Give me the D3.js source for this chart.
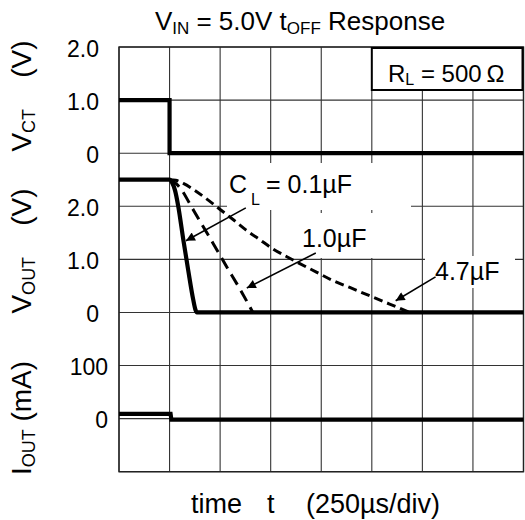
<!DOCTYPE html>
<html><head><meta charset="utf-8">
<script src="https://cdn.jsdelivr.net/npm/d3@7"></script>
<style>
html,body{margin:0;padding:0;background:#fff;}
svg{display:block;font-family:"Liberation Sans",Arial,sans-serif;}
text{fill:#000;}
</style></head><body>
<svg id="c" width="525" height="520"></svg>
<script>
// ---- data ----
const timeTicks = d3.range(0, 2001, 250);           // µs, 250 µs/div
const vctTicks = [0, 1, 2];   const vctLabels = ["0", "1.0", "2.0"];
const voutTicks = [0, 1, 2];  const voutLabels = ["0", "1.0", "2.0"];
const ioutTicks = [-100, 0, 100]; const ioutLabels = ["", "0", "100"];
const vct = [[0,1],[250,1],[250,0],[2000,0]];
const vout01 = [[0,2.5],[250,2.5],[262,2.45],[277,2.3],[293,2.0],[318,1.37],[342,0.8],[367,0.24],[378,0.05],[385,0],[2000,0]];
const vout10 = [[250,2.5],[281,2.43],[311,2.3],[351,2.04],[400,1.72],[464,1.31],[528,0.89],[598,0.44],[662,0]];
const vout47 = [[250,2.5],[280,2.49],[318,2.43],[367,2.32],[433,2.14],[500,1.94],[564,1.75],[629,1.55],[696,1.37],[760,1.2],[830,1.05],[894,0.92],[976,0.76],[1058,0.6],[1141,0.47],[1223,0.34],[1305,0.21],[1388,0.08],[1437,0]];
const iout = [[0,9],[255,9],[259,-2],[2000,-2]];

// ---- layout ----
const L = 119, R = 523.5, T = 47, B = 471.7, h = (B - T) / 8;
const svg = d3.select("#c");
const x = d3.scaleLinear().domain([0, 2000]).range([L, R]);
const yVct = d3.scaleLinear().domain([0, 2]).range([T + 2*h, T]);
const yVout = d3.scaleLinear().domain([0, 2]).range([T + 5*h, T + 3*h]);
const yIout = d3.scaleLinear().domain([-100, 100]).range([B, T + 6*h]);

const defs = svg.append("defs");
defs.append("marker").attr("id","ah").attr("viewBox","0 0 10 10")
  .attr("refX",10).attr("refY",5).attr("markerWidth",13).attr("markerHeight",9)
  .attr("markerUnits","userSpaceOnUse").attr("orient","auto")
  .append("path").attr("d","M0,0L10,5L0,10z").attr("fill","#000");

// grid
const g = svg.append("g").attr("stroke","#333").attr("stroke-width",1.1);
g.selectAll("line.v").data(timeTicks).join("line")
  .attr("x1", d => x(d)).attr("x2", d => x(d)).attr("y1", T).attr("y2", B);
const hLines = vctTicks.map(yVct).concat(voutTicks.map(yVout), ioutTicks.map(yIout));
g.selectAll("line.h").data(hLines).join("line")
  .attr("x1", L).attr("x2", R).attr("y1", d => d).attr("y2", d => d);
svg.append("rect").attr("x",L).attr("y",T).attr("width",R-L).attr("height",B-T)
  .attr("fill","none").attr("stroke","#222").attr("stroke-width",1.4);

// white label backgrounds
const boxes = [[227,163,184,47],[297,213,78,45],[425,256,90,32]];
svg.selectAll("rect.bg").data(boxes).join("rect")
  .attr("x", d=>d[0]).attr("y", d=>d[1]).attr("width", d=>d[2]).attr("height", d=>d[3]).attr("fill","#fff");

// curves
const lineV = d3.line().x(d => x(d[0])).y(d => yVout(d[1])).curve(d3.curveMonotoneX);
svg.append("path").datum(vct).attr("d", d3.line().x(d=>x(d[0])).y(d=>yVct(d[1])))
  .attr("fill","none").attr("stroke","#000").attr("stroke-width",4.2);
svg.append("path").datum(vout47).attr("d", lineV)
  .attr("fill","none").attr("stroke","#000").attr("stroke-width",3).attr("stroke-dasharray","9,5");
svg.append("path").datum(vout10).attr("d", lineV)
  .attr("fill","none").attr("stroke","#000").attr("stroke-width",3).attr("stroke-dasharray","12,7");
svg.append("path").datum(vout01).attr("d", lineV)
  .attr("fill","none").attr("stroke","#000").attr("stroke-width",4.2);
svg.append("path").datum(iout).attr("d", d3.line().x(d=>x(d[0])).y(d=>yIout(d[1])))
  .attr("fill","none").attr("stroke","#000").attr("stroke-width",4.2);

// RL box
svg.append("rect").attr("x",x(1250)).attr("y",T+1).attr("width",R-x(1250)-1).attr("height",90-T-1)
  .attr("fill","#fff").attr("stroke","#000").attr("stroke-width",2);
const rl = svg.append("text").attr("x",388).attr("y",82).attr("font-size",24);
rl.append("tspan").text("R");
rl.append("tspan").attr("font-size",16).attr("dy",3).text("L");
rl.append("tspan").attr("dy",-3).text(" = 500\u2009Ω");

// tick labels
function ticks(vals, labs, sc, xr) {
  svg.append("g").selectAll("text").data(vals.map((v,i)=>[v,labs[i]]).filter(d=>d[1]!==""))
    .join("text").attr("x", xr).attr("y", d => sc(d[0]) + 9.5)
    .attr("text-anchor","end").attr("font-size",23).text(d => d[1]);
}
ticks(vctTicks, vctLabels, yVct, 99);
ticks(voutTicks, voutLabels, yVout, 99);
ticks(ioutTicks, ioutLabels, yIout, 108);

// title
const tt = svg.append("text").attr("x",300).attr("y",30).attr("text-anchor","middle").attr("font-size",26);
tt.append("tspan").text("V");
tt.append("tspan").attr("font-size",17).attr("dy",4).text("IN");
tt.append("tspan").attr("dy",-4).text(" = 5.0V t");
tt.append("tspan").attr("font-size",17).attr("dy",4).text("OFF");
tt.append("tspan").attr("dy",-4).text(" Response");

// axis titles (rotated)
function ytitle(cy, main, sub, rest) {
  const t = svg.append("text").attr("transform",`translate(31,${cy}) rotate(-90)`)
    .attr("text-anchor","middle").attr("font-size",28).style("white-space","pre");
  t.append("tspan").text(main);
  t.append("tspan").attr("font-size",18).attr("dy",4).text(sub);
  t.append("tspan").attr("dy",-4).text(rest);
}
ytitle(96, "V", "CT", "    (V)");
ytitle(251, "V", "OUT", "    (V)");
ytitle(418, "I", "OUT", " (mA)");

// x label
const xl = svg.append("g").attr("font-size",27);
xl.append("text").attr("x",191).attr("y",513).text("time");
xl.append("text").attr("x",267).attr("y",513).text("t");
xl.append("text").attr("x",306).attr("y",513).text("(250µs/div)");

// annotations
const cl = svg.append("g").attr("font-size",25);
cl.append("text").attr("x",229).attr("y",193).text("C");
cl.append("text").attr("x",251).attr("y",205).attr("font-size",16).text("L");
cl.append("text").attr("x",266).attr("y",193).text("= 0.1µF");
cl.append("text").attr("x",302).attr("y",247).text("1.0µF");
cl.append("text").attr("x",435).attr("y",280).text("4.7µF");

const arrows = [
  [[627,1.97],[331,1.35]],
  [[973,1.12],[632,0.46]],
  [[1565,0.67],[1368,0.22]]
];
svg.selectAll("line.ar").data(arrows).join("line")
  .attr("x1", d=>x(d[0][0])).attr("y1", d=>yVout(d[0][1]))
  .attr("x2", d=>x(d[1][0])).attr("y2", d=>yVout(d[1][1]))
  .attr("stroke","#000").attr("stroke-width",1.6).attr("marker-end","url(#ah)");
</script></body></html>
